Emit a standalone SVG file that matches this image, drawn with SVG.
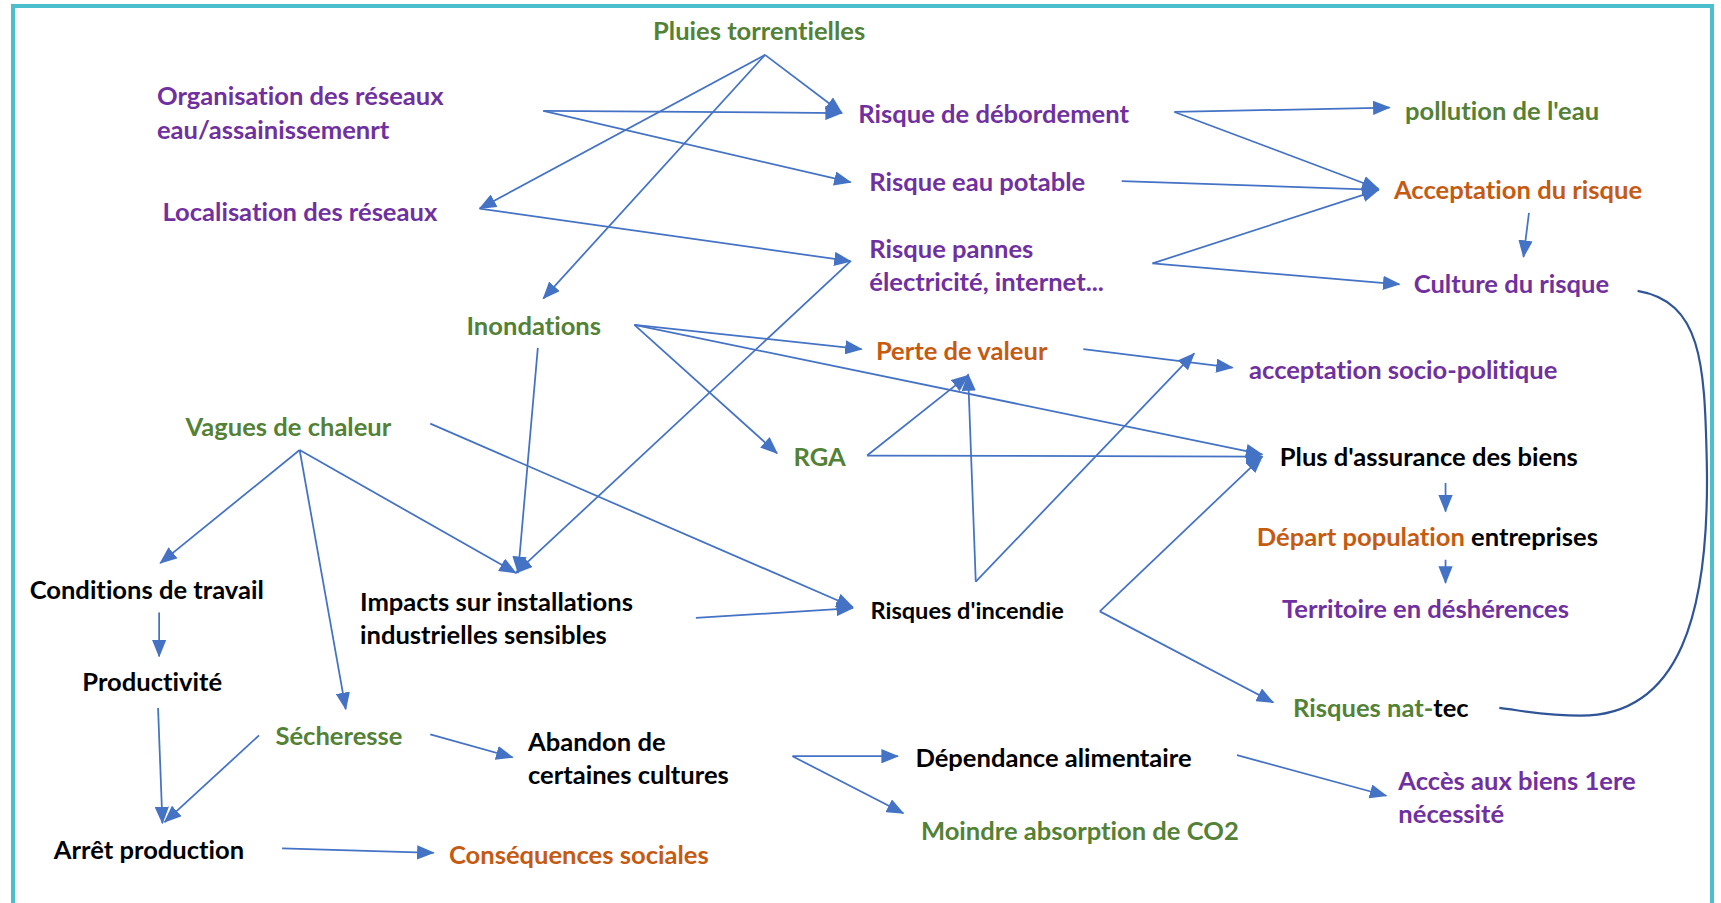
<svg xmlns="http://www.w3.org/2000/svg" width="1721" height="903" viewBox="0 0 1721 903">
<style>
text{font-family:Lato,"Liberation Sans",sans-serif;font-weight:700;font-size:23.3px;font-variant-ligatures:none}
.p{fill:#7030A0}.g{fill:#538135}.o{fill:#C55A11}.k{fill:#000}
.c line,.c path{stroke:#4472C4;stroke-width:1.6;fill:none}
.c line{marker-end:url(#ah)}
</style>
<defs>
<marker id="ah" markerUnits="userSpaceOnUse" markerWidth="16" markerHeight="13" refX="15" refY="6.5" orient="auto"><path d="M0,0 L16,6.5 L0,13 z" fill="#4472C4"/></marker>
</defs>
<rect x="13" y="6" width="1699" height="910" fill="#fff" stroke="#4BBFCD" stroke-width="4"/>
<g transform="scale(1.0976)">
<g class="c" id="connectors">
<line x1="697" y1="50" x2="767" y2="103"/>
<line x1="697" y1="50" x2="437" y2="190"/>
<line x1="697" y1="50" x2="495" y2="272"/>
<line x1="495" y1="101" x2="767" y2="103"/>
<line x1="495" y1="101" x2="775" y2="166"/>
<line x1="437" y1="190" x2="775" y2="238"/>
<line x1="775" y1="238" x2="470" y2="522"/>
<line x1="490" y1="317" x2="472" y2="522"/>
<line x1="578" y1="296" x2="785" y2="318"/>
<line x1="578" y1="296" x2="708" y2="413"/>
<line x1="578" y1="296" x2="1150" y2="414"/>
<line x1="273" y1="410" x2="146" y2="513"/>
<line x1="273" y1="410" x2="315" y2="646"/>
<line x1="273" y1="410" x2="470" y2="522"/>
<line x1="392" y1="386" x2="777" y2="553"/>
<line x1="145" y1="558" x2="145" y2="598"/>
<line x1="144" y1="645" x2="148" y2="750"/>
<line x1="236" y1="670" x2="150" y2="749"/>
<line x1="392" y1="669" x2="467" y2="690"/>
<line x1="257" y1="773" x2="395" y2="777"/>
<line x1="722" y1="689" x2="818" y2="689"/>
<line x1="722" y1="689" x2="823" y2="741"/>
<line x1="1127" y1="688" x2="1263" y2="725"/>
<line x1="634" y1="563" x2="777" y2="554"/>
<line x1="889" y1="530" x2="882" y2="341"/>
<line x1="889" y1="530" x2="1088" y2="322"/>
<line x1="987" y1="318" x2="1123" y2="335"/>
<line x1="790" y1="415" x2="882" y2="342"/>
<line x1="790" y1="415" x2="1150" y2="416"/>
<line x1="1002" y1="557" x2="1150" y2="416"/>
<line x1="1002" y1="557" x2="1160" y2="640"/>
<line x1="1070" y1="102" x2="1266" y2="98"/>
<line x1="1070" y1="102" x2="1256" y2="172"/>
<line x1="1022" y1="165" x2="1256" y2="173"/>
<line x1="1050" y1="240" x2="1256" y2="173"/>
<line x1="1050" y1="240" x2="1275" y2="259"/>
<line x1="1393" y1="194" x2="1388" y2="234"/>
<line x1="1317" y1="440" x2="1317" y2="466"/>
<line x1="1317" y1="510" x2="1317" y2="531"/>
<path d="M1492,265 C1550,275 1553,330 1555,420 C1558,560 1530,652 1440,652 C1410,652 1390,648 1366,645" style="stroke:#2F5597;stroke-width:2"/>
</g>
<g id="n-pluies"><text class="g" x="595" y="36">Pluies torrentielles</text></g>
<g id="n-organisation"><text class="p" x="143" y="96">Organisation des réseaux</text><text class="p" x="143" y="127">eau/assainissemenrt</text></g>
<g id="n-localisation"><text class="p" x="148" y="201">Localisation des réseaux</text></g>
<g id="n-debordement"><text class="p" x="782" y="112">Risque de débordement</text></g>
<g id="n-eaupotable"><text class="p" x="792" y="174">Risque eau potable</text></g>
<g id="n-pannes"><text class="p" x="792" y="235">Risque pannes</text><text class="p" x="792" y="265">électricité, internet...</text></g>
<g id="n-pollution"><text class="g" x="1280" y="109">pollution de l'eau</text></g>
<g id="n-acceptation"><text class="o" x="1270" y="181">Acceptation du risque</text></g>
<g id="n-culture"><text class="p" x="1288" y="267">Culture du risque</text></g>
<g id="n-inondations"><text class="g" x="425" y="305">Inondations</text></g>
<g id="n-perte"><text class="o" x="798" y="328">Perte de valeur</text></g>
<g id="n-sociopol"><text class="p" x="1138" y="345">acceptation socio-politique</text></g>
<g id="n-vagues"><text class="g" x="169" y="397">Vagues de chaleur</text></g>
<g id="n-rga"><text class="g" x="723" y="425">RGA</text></g>
<g id="n-assurance"><text class="k" x="1166" y="425">Plus d'assurance des biens</text></g>
<g id="n-depart"><text x="1145" y="497"><tspan class="o">Départ population</tspan><tspan class="k"> entreprises</tspan></text></g>
<g id="n-territoire"><text class="p" x="1168" y="563">Territoire en déshérences</text></g>
<g id="n-conditions"><text class="k" x="27" y="546">Conditions de travail</text></g>
<g id="n-impacts"><text class="k" x="328" y="557">Impacts sur installations</text><text class="k" x="328" y="587">industrielles sensibles</text></g>
<g id="n-incendie"><text class="k" x="793" y="564" style="font-size:21.5px">Risques d'incendie</text></g>
<g id="n-productivite"><text class="k" x="75" y="630">Productivité</text></g>
<g id="n-secheresse"><text class="g" x="251" y="679">Sécheresse</text></g>
<g id="n-abandon"><text class="k" x="481" y="684">Abandon de</text><text class="k" x="481" y="714">certaines cultures</text></g>
<g id="n-nattec"><text x="1178" y="653"><tspan class="g">Risques nat-</tspan><tspan class="k">tec</tspan></text></g>
<g id="n-dependance"><text class="k" x="834" y="699">Dépendance alimentaire</text></g>
<g id="n-acces"><text class="p" x="1274" y="720">Accès aux biens 1ere</text><text class="p" x="1274" y="750">nécessité</text></g>
<g id="n-moindre"><text class="g" x="839" y="765">Moindre absorption de CO2</text></g>
<g id="n-arret"><text class="k" x="49" y="783">Arrêt production</text></g>
<g id="n-consequences"><text class="o" x="409" y="787">Conséquences sociales</text></g>
</g>
</svg>
